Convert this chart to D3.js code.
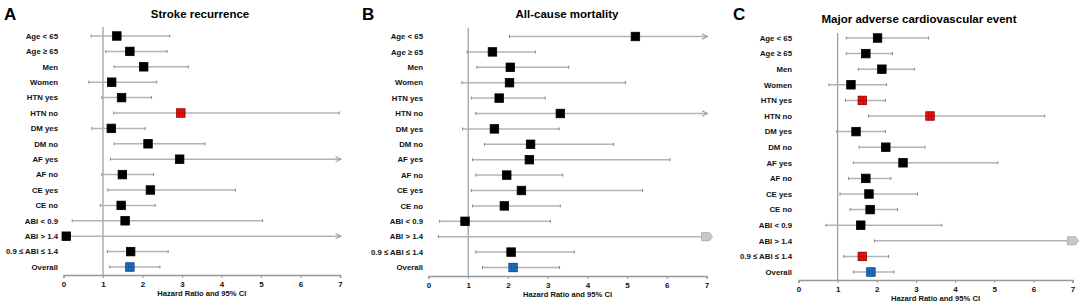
<!DOCTYPE html>
<html>
<head>
<meta charset="utf-8">
<script src="https://cdn.jsdelivr.net/npm/d3@7"></script>
<style>
  body { margin: 0; background: #fff; }
  text { font-family: "Liberation Sans", Arial, sans-serif; }
</style>
</head>
<body>
<script>
const width = 1084, height = 307;

// row labels (same for all three panels)
const categories = ["Age < 65", "Age \u2265 65", "Men", "Women", "HTN yes", "HTN no",
    "DM yes", "DM no", "AF yes", "AF no", "CE yes", "CE no",
    "ABI < 0.9", "ABI > 1.4", "0.9 \u2264 ABI \u2264 1.4", "Overall"];

const xTicks = [0, 1, 2, 3, 4, 5, 6, 7];

// A - stroke recurrence (null hi = open-ended arrow)
const estA = [1.35, 1.68, 2.03, 1.22, 1.47, 2.97, 1.21, 2.14, 2.94, 1.49, 2.20, 1.46, 1.56, 0.07, 1.70, 1.68];
const loA  = [0.70, 1.07, 1.28, 0.64, 0.97, 1.27, 0.72, 1.28, 1.19, 0.97, 1.12, 0.93, 0.22, 0.05, 1.11, 1.17];
const hiA  = [2.69, 2.62, 3.16, 2.36, 2.23, 6.98, 2.07, 3.58, null, 2.28, 4.35, 2.32, 5.04, null, 2.65, 2.44];
const colA = ["k", "k", "k", "k", "k", "r", "k", "k", "k", "k", "k", "k", "k", "k", "k", "b"];

// B - all-cause mortality (null est = off-scale marker)
const estB = [5.21, 1.61, 2.06, 2.04, 1.78, 3.32, 1.66, 2.57, 2.54, 1.97, 2.34, 1.91, 0.92, null, 2.08, 2.13];
const loB  = [2.04, 0.97, 1.22, 0.84, 1.08, 1.19, 0.86, 1.41, 1.11, 1.19, 1.08, 1.11, 0.28, 0.25, 1.19, 1.36];
const hiB  = [null, 2.69, 3.53, 4.96, 2.94, null, 3.29, 4.66, 6.08, 3.38, 5.39, 3.32, 3.07, null, 3.67, 3.30];
const colB = ["k", "k", "k", "k", "k", "k", "k", "k", "k", "k", "k", "k", "k", "g", "k", "b"];

// C - MACE
const estC = [2.02, 1.72, 2.13, 1.34, 1.63, 3.36, 1.47, 2.23, 2.67, 1.72, 1.80, 1.83, 1.59, null, 1.63, 1.85];
const loC  = [1.22, 1.22, 1.53, 0.78, 1.20, 1.79, 0.98, 1.55, 1.40, 1.28, 1.06, 1.32, 0.70, 1.94, 1.16, 1.40];
const hiC  = [3.32, 2.40, 2.96, 2.25, 2.22, 6.29, 2.22, 3.23, 5.09, 2.36, 3.04, 2.53, 3.66, null, 2.30, 2.44];
const colC = ["k", "k", "k", "k", "r", "r", "k", "k", "k", "k", "k", "k", "k", "g", "r", "b"];

const fills = { k: "#000", r: "#ee1111", b: "#1f6fc4", g: "#c8c8c8" };
const strokes = { k: "#000", r: "#8a0000", b: "#0b3f80", g: "#b0b0b0" };

const panels = [
    { letter: "A", title: "Stroke recurrence", est: estA, lo: loA, hi: hiA, col: colA,
      x0: 63.5, x1: 340, labelX: 58, rowTop: 36, rowBot: 267, axisY: 275, refTop: 27,
      titleX: 200, titleY: 18, letterX: 4, letterY: 20 },
    { letter: "B", title: "All-cause mortality", est: estB, lo: loB, hi: hiB, col: colB,
      x0: 428.5, x1: 706.5, labelX: 423, rowTop: 36.5, rowBot: 267.5, axisY: 276, refTop: 28,
      titleX: 567, titleY: 18, letterX: 362, letterY: 20 },
    { letter: "C", title: "Major adverse cardiovascular event", est: estC, lo: loC, hi: hiC, col: colC,
      x0: 798.5, x1: 1072.5, labelX: 792, rowTop: 38, rowBot: 272, axisY: 280, refTop: 33,
      titleX: 919, titleY: 23, letterX: 733, letterY: 20 }
];

const svg = d3.select("body")
    .append("svg")
    .attr("width", width)
    .attr("height", height);

const defs = svg.append("defs");
defs.append("marker")
    .attr("id", "arrow")
    .attr("viewBox", "0 0 10 10")
    .attr("refX", 9).attr("refY", 5)
    .attr("markerWidth", 4.5).attr("markerHeight", 4.5)
    .attr("orient", "auto")
    .append("path")
    .attr("d", "M1,1 L9,5 L1,9")
    .attr("fill", "none")
    .attr("stroke", "#999")
    .attr("stroke-width", 1.5);

const lineCol = "#b3b3b3";
const sq = 8.5;

panels.forEach(p => {
    const x = d3.scaleLinear().domain([0, 7]).range([p.x0, p.x1]);
    const y = d3.scalePoint().domain(categories).range([p.rowTop, p.rowBot]);
    const g = svg.append("g");

    // panel letter + title
    g.append("text")
        .attr("x", p.letterX).attr("y", p.letterY)
        .attr("font-size", "17px").attr("font-weight", "bold")
        .text(p.letter);
    g.append("text")
        .attr("x", p.titleX).attr("y", p.titleY)
        .attr("text-anchor", "middle")
        .attr("font-size", "11.5px").attr("font-weight", "bold")
        .text(p.title);

    // row labels
    g.selectAll(".lab")
        .data(categories)
        .enter()
        .append("text")
        .attr("x", p.labelX)
        .attr("y", d => y(d))
        .attr("dy", "0.35em")
        .attr("text-anchor", "end")
        .attr("font-size", "7.8px").attr("font-weight", "bold")
        .attr("fill", "#111")
        .text(d => d);

    // reference line at HR = 1
    g.append("line")
        .attr("x1", x(1)).attr("x2", x(1))
        .attr("y1", p.refTop).attr("y2", p.axisY)
        .attr("stroke", "#999").attr("stroke-width", 1.2);

    // x axis
    const axis = g.append("g")
        .attr("transform", `translate(0,${p.axisY})`)
        .call(d3.axisBottom(x).tickValues(xTicks).tickSize(3).tickPadding(3).tickFormat(d3.format("d")));
    axis.select(".domain").attr("stroke", "#999").attr("stroke-width", 1.5);
    axis.selectAll(".tick line").attr("stroke", "#999");
    axis.selectAll(".tick text")
        .attr("font-size", "8px").attr("font-weight", "bold")
        .attr("font-family", "Liberation Sans, Arial, sans-serif")
        .attr("fill", "#111");

    g.append("text")
        .attr("x", (p.x0 + p.x1) / 2).attr("y", p.axisY + 21)
        .attr("text-anchor", "middle")
        .attr("font-size", "7.6px").attr("font-weight", "bold")
        .attr("fill", "#111")
        .text("Hazard Ratio and 95% CI");

    const rows = categories.map((c, i) => ({ c, est: p.est[i], lo: p.lo[i], hi: p.hi[i], col: p.col[i] }));

    const row = g.selectAll(".row")
        .data(rows)
        .enter()
        .append("g")
        .attr("transform", d => `translate(0,${y(d.c)})`);

    // CI lines
    row.append("line")
        .attr("x1", d => x(d.lo))
        .attr("x2", d => d.hi == null ? x(7) + 1 : x(d.hi))
        .attr("stroke", lineCol).attr("stroke-width", 1.5)
        .attr("marker-end", d => d.hi == null && d.est != null ? "url(#arrow)" : null);

    // end caps
    row.append("line")
        .attr("x1", d => x(d.lo)).attr("x2", d => x(d.lo))
        .attr("y1", -1.5).attr("y2", 1.5)
        .attr("stroke", "#888");
    row.filter(d => d.hi != null)
        .append("line")
        .attr("x1", d => x(d.hi)).attr("x2", d => x(d.hi))
        .attr("y1", -1.5).attr("y2", 1.5)
        .attr("stroke", "#888");

    // off-scale marker (gray) with arrow
    row.filter(d => d.est == null)
        .append("path")
        .attr("d", d => `M${x(7) - 5},-4 L${x(7) + 3},-4 L${x(7) + 6},0 L${x(7) + 3},4 L${x(7) - 5},4 Z`)
        .attr("fill", fills.g).attr("stroke", strokes.g);

    // point estimates
    row.filter(d => d.est != null)
        .append("rect")
        .attr("x", d => x(d.est) - sq / 2)
        .attr("y", -sq / 2)
        .attr("width", sq).attr("height", sq)
        .attr("fill", d => fills[d.col])
        .attr("stroke", d => strokes[d.col])
        .attr("stroke-width", 0.8);

    // faint grid inside coloured markers
    row.filter(d => d.est != null && (d.col === "b" || d.col === "r"))
        .append("path")
        .attr("d", d => `M${x(d.est) - 1.4},${-sq / 2} v${sq} M${x(d.est) + 1.4},${-sq / 2} v${sq} M${x(d.est) - sq / 2},0 h${sq}`)
        .attr("stroke", d => strokes[d.col])
        .attr("stroke-width", 0.6)
        .attr("opacity", 0.7);
});
</script>
</body>
</html>
